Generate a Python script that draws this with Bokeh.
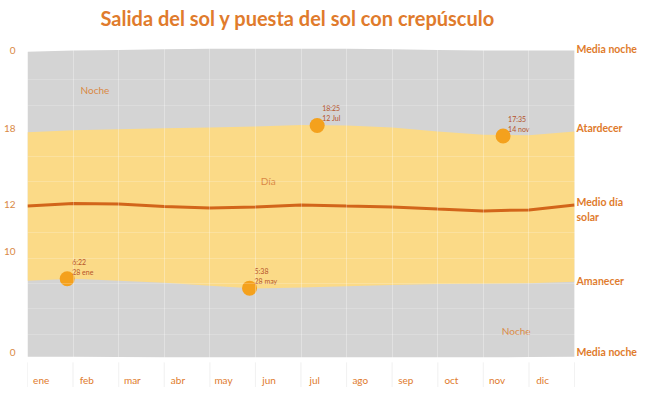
from bokeh.plotting import figure
from bokeh.models import FixedTicker, Label, Range1d, ColumnDataSource
from bokeh.core.properties import value
from bokeh.embed import file_html
from bokeh.resources import INLINE

# ---- data ----
month_labels = ["ene", "feb", "mar", "abr", "may", "jun", "jul", "ago", "sep", "oct", "nov", "dic"]
month_edges = list(range(13))  # month boundaries (0 = 1 ene, 12 = 31 dic)
days_in_month = [31, 28, 31, 30, 31, 30, 31, 31, 30, 31, 30, 31]

sunset = [17.88, 18.03, 18.11, 18.19, 18.26, 18.34, 18.46, 18.42, 18.26, 17.95, 17.68, 17.64, 17.95]
sunrise = [6.22, 6.37, 6.22, 6.06, 5.83, 5.60, 5.68, 5.79, 5.87, 5.95, 5.98, 6.02, 6.14]
noon = [12.08, 12.28, 12.24, 12.05, 11.93, 12.01, 12.16, 12.08, 12.01, 11.85, 11.70, 11.78, 12.16]
night_top = [24.2, 24.3, 24.35, 24.4, 24.45, 24.45, 24.45, 24.45, 24.4, 24.35, 24.3, 24.3, 24.3]
night_bottom = [0.25, 0.25, 0.22, 0.2, 0.2, 0.2, 0.2, 0.2, 0.2, 0.2, 0.2, 0.22, 0.25]

event_month = [0, 4, 6, 10]
event_day = [28, 28, 12, 14]
event_hour = [6 + 22 / 60, 5 + 38 / 60, 18 + 25 / 60, 17 + 35 / 60]
event_text = ["6:22\n28 ene", "5:38\n28 may", "18:25\n12 Jul", "17:35\n14 nov"]

ytick_pos = [0.58, 8.53, 12.24, 18.18, 24.3]
ytick_labels = ["0", "10", "12", "18", "0"]

right_labels = ["Media noche", "Atardecer", "Medio día\nsolar", "Amanecer", "Media noche"]
right_hours = [24.4, 18.18, 11.85, 6.22, 0.65]

# ---- styles ----
ORANGE = "#E07B2C"
LABEL_ORANGE = "#D98945"
GRAY = "#D4D4D4"
YELLOW = "#FBDA87"
NOON = "#D2651A"
SUN = "#F4A11D"
FONT = "Lato"
MONTH_LABEL_Y = -1.62   # row of month labels, below the chart
SEP_TOP, SEP_BOTTOM = -0.2, -2.3

event_x = [m + (d - 1) / days_in_month[m] for m, d in zip(event_month, event_day)]

p = figure(width=637, height=387, output_backend="svg", toolbar_location=None,
           x_range=Range1d(0, 13.382), y_range=Range1d(-2.175, 25.72),
           min_border_left=27, min_border_right=0, min_border_bottom=0, min_border_top=32,
           title="Salida del sol y puesta del sol con crepúsculo")
p.outline_line_color = None
p.background_fill_color = "white"
p.border_fill_color = "white"

p.title.align = "left"
p.title.offset = 73
p.title.text_color = ORANGE
p.title.text_font = FONT
p.title.text_font_size = "20px"
p.title.text_font_style = "bold"
p.title.standoff = 5

src = ColumnDataSource(dict(x=month_edges, sunset=sunset, sunrise=sunrise, noon=noon,
                            ntop=night_top, nbot=night_bottom))
p.varea(x="x", y1="nbot", y2="ntop", source=src, fill_color=GRAY)
p.varea(x="x", y1="sunrise", y2="sunset", source=src, fill_color=YELLOW)
p.line(x="x", y="noon", source=src, line_color=NOON, line_width=3)

# month separators and labels below the chart
p.segment(x0=month_edges, x1=month_edges, y0=[SEP_TOP] * 13, y1=[SEP_BOTTOM] * 13,
          line_color="#ECECEC", line_width=1)
p.text(x=[i + 0.3 for i in range(12)], y=[MONTH_LABEL_Y] * 12, text=month_labels,
       text_color=ORANGE, text_font=value(FONT), text_font_size="10px",
       text_align="center", text_baseline="middle")

# right-hand labels
p.text(x=[12] * len(right_labels), y=right_hours, text=right_labels, x_offset=2,
       text_color=ORANGE, text_font=value(FONT), text_font_size="10.5px",
       text_font_style="bold", text_align="left", text_baseline="middle",
       text_line_height=1.25)

p.scatter(x=event_x, y=event_hour, size=15, fill_color=SUN, line_color=None)
for ex, ey, et in zip(event_x, event_hour, event_text):
    p.add_layout(Label(x=ex, y=ey, text=et, x_offset=5, y_offset=3,
                       text_font=FONT, text_font_size="7px", text_color="#B5532A",
                       text_baseline="bottom", text_line_height=1.25))

for tx, tx_x, tx_y in [("Noche", 1.48, 21.2), ("Noche", 10.72, 2.27), ("Día", 5.28, 14.09)]:
    p.add_layout(Label(x=tx_x, y=tx_y, text=tx, text_font=FONT, text_font_size="10px",
                       text_color=LABEL_ORANGE, text_align="center", text_baseline="middle"))

# axes
p.xaxis.visible = False

ya = p.yaxis[0]
ya.ticker = FixedTicker(ticks=ytick_pos)
ya.major_label_overrides = {v: t for v, t in zip(ytick_pos, ytick_labels)}
ya.major_label_text_color = LABEL_ORANGE
ya.major_label_text_font = FONT
ya.major_label_text_font_size = "10px"
ya.major_label_standoff = 6
ya.major_tick_line_color = None
ya.minor_tick_line_color = None
ya.axis_line_color = None

p.xgrid.ticker = FixedTicker(ticks=month_edges)
p.xgrid.grid_line_color = "white"
p.xgrid.grid_line_alpha = 0.3
p.xgrid.level = "overlay"
p.ygrid.ticker = FixedTicker(ticks=[2, 4, 6, 8, 10, 14, 16, 20, 22])
p.ygrid.grid_line_color = "white"
p.ygrid.grid_line_alpha = 0.2
p.ygrid.level = "overlay"

open("out.html", "w").write(file_html(p, INLINE))
